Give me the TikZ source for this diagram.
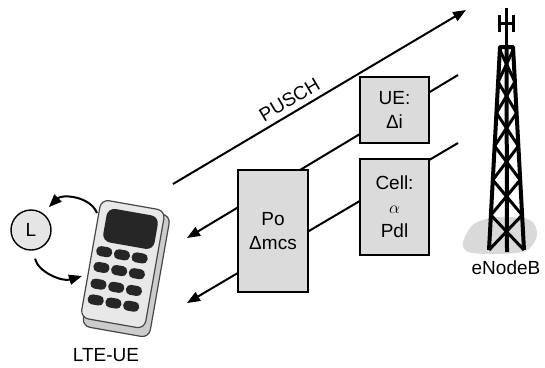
\documentclass[tikz,border=0pt]{standalone}
\usepackage{fontspec}
\setmainfont{Liberation Sans}
\usetikzlibrary{arrows.meta,positioning,calc}
\pgfdeclarelayer{bg}
\pgfsetlayers{bg,main}
\tikzset{
    param/.style={
           rectangle,
           draw=black, line width=2.2pt,
           fill=gray!28,
           align=center,
           inner sep=2pt,
           },
}
\tikzset{
    link/.style={
           line width=2pt,
           -{Triangle[length=13pt,width=10pt]},
           },
}
\tikzset{
    key/.style={
           fill=black!85,
           rounded corners=4.5pt,
           },
}

\begin{document}
\begin{tikzpicture}[x=1pt,y=-1pt,font=\fontsize{19}{24}\selectfont]
\useasboundingbox (0,0) rectangle (545,367);

\node[param,minimum width=69pt,minimum height=66pt](ue) at (394.5,110){UE:\\Δi};
\node[param,minimum width=69pt,minimum height=96pt,below=14pt of ue](cell){Cell:\\$\alpha$\\Pdl};
\node[param,minimum width=70pt,minimum height=122pt](po) at (273,231){Po\\Δmcs};

\coordinate (ue-r) at (458,75);
\coordinate (ue-l) at (187,238);
\coordinate (cell-r) at (458,143);
\coordinate (cell-l) at (187,303);
\coordinate (pusch-s) at (173,184);
\coordinate (pusch-e) at (466,10);

\begin{pgfonlayer}{bg}
\draw[link] (ue-r) -- (ue-l);
\draw[link] (cell-r) -- (cell-l);
\end{pgfonlayer}
\draw[link] (pusch-s) -- (pusch-e) node[pos=0.42,above=2pt,sloped]{PUSCH};

% handset
\begin{scope}[shift={(122,266)},rotate=-10]
\draw[draw=gray!55!black,line width=1.2pt,fill=gray!40,rounded corners=8pt] (-29,-58) rectangle (39,66);
\draw[draw=gray!55!black,line width=1.2pt,fill=gray!18,rounded corners=8pt] (-32,-62) rectangle (33,58);
\fill[black!85,rounded corners=8pt] (-24,-55) rectangle (28,-21);
\foreach \r in {-11,5,22,38}
  \foreach \c in {-20,-2,16}
    \fill[key] ({\c-8},{\r-5}) rectangle ({\c+8},{\r+5});
\end{scope}
\coordinate (ph-a) at (97,213);
\coordinate (ph-b) at (82,276);
\node (lte) at (106,355){LTE-UE};

\node[circle,draw,line width=1.4pt,fill=gray!20,minimum size=40pt,inner sep=0pt](L) at (31,230){L};
\draw[link] (ph-a) .. controls (90,196) and (62,194) .. ($(L)!1.4!(L.52)$);
\draw[link] ($(L)!1.4!(L.-82)$) .. controls (38,272) and (62,282) .. (ph-b);

% tower
\fill[gray!30] plot[smooth cycle] coordinates {(463,242) (474,224) (498,217) (530,220) (537,235) (526,251) (495,254) (468,252)};
\coordinate (tl) at (500,47);
\coordinate (tr) at (513,47);
\coordinate (bl) at (489,250);
\coordinate (br) at (524,250);
\coordinate (tc) at (506.5,45);
\coordinate (bc) at (507,252);
\draw[line width=4pt,line join=round] (bl) -- (tl) -- (tr) -- (br) (tc) -- (bc);
\foreach \a/\b in {0.015/0.172,0.172/0.325,0.325/0.488,0.488/0.655,0.655/0.828,0.828/1}
  \draw[line width=3pt] ($(tl)!\a!(bl)$) -- ($(tr)!\b!(br)$) ($(tr)!\a!(br)$) -- ($(tl)!\b!(bl)$);
\draw[line width=3.5pt] (506.5,8) -- (tc);
\draw[line width=3pt] (499,15) -- (499,32) (513,15) -- (513,32) (499,23) -- (513,23);
\node (enb) at (506,268){eNodeB};
\end{tikzpicture}
\end{document}
